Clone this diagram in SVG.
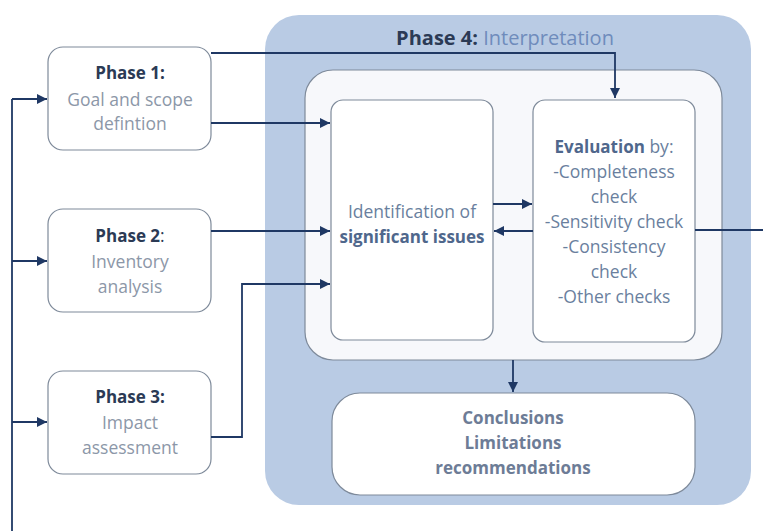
<svg xmlns="http://www.w3.org/2000/svg" width="763" height="531" viewBox="0 0 763 531">
<defs>
<marker id="ah" viewBox="0 0 10 10" refX="10" refY="5" markerWidth="10" markerHeight="10" markerUnits="userSpaceOnUse" orient="auto">
<path d="M0,0 L10,5 L0,10 z" fill="#1f3864"/>
</marker>
</defs>
<style>
.t{font-family:"Open Sans","Noto Sans",sans-serif;font-size:17.5px;text-anchor:middle}
.b{font-weight:bold;font-size:17px}
.dk{fill:#2b3a55}
.lt{fill:#8c97a8}
.bl{fill:#6a7f9e}
.bb{fill:#4f678c}
.box{fill:#ffffff;stroke:#7e8a9a;stroke-width:1.2}
.ln{fill:none;stroke:#1f3864;stroke-width:1.8}
</style>
<rect width="763" height="531" fill="#ffffff"/>
<g id="phase4">
<rect x="265" y="15" width="486" height="490" rx="34" fill="#b9cbe4"/>
<text class="t" x="505" y="45" style="font-size:20px"><tspan class="dk" font-weight="bold">Phase 4:</tspan><tspan fill="#6f8cbc"> Interpretation</tspan></text>
<rect x="305" y="70" width="417" height="290" rx="28" fill="#f7f8fb" stroke="#7e8a9a" stroke-width="1.2"/>
</g>
<g id="phase1">
<rect class="box" x="48" y="47" width="163" height="103" rx="15"/>
<text class="t b dk" x="130" y="79">Phase 1:</text>
<text class="t lt" x="130" y="106">Goal and scope</text>
<text class="t lt" x="130" y="130">defintion</text>
</g>
<g id="phase2">
<rect class="box" x="48" y="209" width="163" height="103" rx="15"/>
<text class="t" x="130" y="242"><tspan class="b dk">Phase 2</tspan><tspan class="dk">:</tspan></text>
<text class="t lt" x="130" y="268">Inventory</text>
<text class="t lt" x="130" y="293">analysis</text>
</g>
<g id="phase3">
<rect class="box" x="48" y="371" width="163" height="103" rx="15"/>
<text class="t b dk" x="130" y="403">Phase 3:</text>
<text class="t lt" x="130" y="429">Impact</text>
<text class="t lt" x="130" y="454">assessment</text>
</g>
<g id="identification">
<rect class="box" x="331" y="100" width="162" height="240" rx="12"/>
<text class="t bl" x="412" y="218">Identification of</text>
<text class="t b bb" x="412" y="243">significant issues</text>
</g>
<g id="evaluation">
<rect class="box" x="533" y="100" width="162" height="242" rx="12"/>
<text class="t" x="614" y="153"><tspan class="b bb">Evaluation</tspan><tspan class="bl"> by:</tspan></text>
<text class="t bl" x="614" y="178">-Completeness</text>
<text class="t bl" x="614" y="203">check</text>
<text class="t bl" x="614" y="228">-Sensitivity check</text>
<text class="t bl" x="614" y="253">-Consistency</text>
<text class="t bl" x="614" y="278">check</text>
<text class="t bl" x="614" y="303">-Other checks</text>
</g>
<g id="conclusions">
<rect class="box" x="332" y="393" width="363" height="102" rx="28"/>
<text class="t b" fill="#6d7c96" x="513" y="424">Conclusions</text>
<text class="t b" fill="#6d7c96" x="513" y="449">Limitations</text>
<text class="t b" fill="#6d7c96" x="513" y="474">recommendations</text>
</g>
<g id="connectors">
<path class="ln" d="M12,531 V99" />
<path class="ln" d="M12,99 H47" marker-end="url(#ah)"/>
<path class="ln" d="M12,261 H47" marker-end="url(#ah)"/>
<path class="ln" d="M12,422 H47" marker-end="url(#ah)"/>
<path class="ln" d="M211,53 H615 V98" marker-end="url(#ah)"/>
<path class="ln" d="M211,123 H330" marker-end="url(#ah)"/>
<path class="ln" d="M211,231 H330" marker-end="url(#ah)"/>
<path class="ln" d="M211,437 H242 V284 H330" marker-end="url(#ah)"/>
<path class="ln" d="M493,204 H532" marker-end="url(#ah)"/>
<path class="ln" d="M533,231 H494" marker-end="url(#ah)"/>
<path class="ln" d="M695,230 H763"/>
<path class="ln" d="M513,360 V392" marker-end="url(#ah)"/>
</g>
</svg>
